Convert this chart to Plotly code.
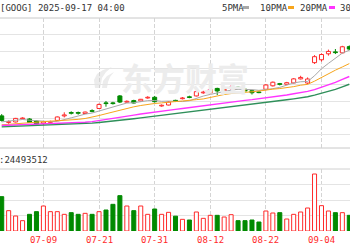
import plotly.graph_objects as go

# ---------------- data ----------------
dates = ["06-30", "07-01", "07-02", "07-03", "07-07", "07-08", "07-09", "07-10", "07-11",
         "07-14", "07-15", "07-16", "07-17", "07-18", "07-21", "07-22", "07-23", "07-24",
         "07-25", "07-28", "07-29", "07-30", "07-31", "08-01", "08-04", "08-05", "08-06",
         "08-07", "08-08", "08-11", "08-12", "08-13", "08-14", "08-15", "08-18", "08-19",
         "08-20", "08-21", "08-22", "08-25", "08-26", "08-27", "08-28", "08-29", "09-02",
         "09-03", "09-04", "09-05", "09-08", "09-09", "09-10"]

opens = [180.0, 174.5, 174.9, 177.6, 177.4, 175.7, 173.7, 174.6, 176.2, 180.0,
         182.8, 182.8, 182.0, 184.4, 186.2, 190.9, 190.9, 196.7, 191.5, 192.8,
         192.5, 195.0, 195.6, 188.3, 189.1, 193.0, 194.4, 196.0, 196.7, 199.3,
         199.4, 203.0, 200.9, 203.5, 204.0, 202.3, 201.1, 200.0, 202.3, 205.2,
         207.0, 206.5, 207.6, 211.0, 207.5, 224.6, 227.0, 232.0, 233.6, 232.8, 238.0]
highs = [181.5, 176.2, 178.3, 178.8, 178.0, 176.2, 175.3, 176.0, 179.5, 183.0,
         183.8, 183.6, 183.6, 185.5, 190.4, 192.5, 191.8, 197.5, 193.0, 193.5,
         194.2, 196.5, 196.7, 189.6, 192.2, 193.5, 195.8, 196.9, 201.0, 201.0,
         202.5, 203.6, 202.8, 205.9, 204.6, 202.6, 201.5, 200.5, 206.7, 208.8,
         207.6, 208.5, 211.7, 213.6, 212.2, 230.9, 232.4, 235.5, 236.0, 238.7, 239.0]
lows = [175.3, 173.3, 174.5, 177.2, 174.1, 172.8, 172.0, 174.1, 175.9, 178.7,
        181.2, 181.0, 181.6, 183.0, 185.8, 187.7, 189.5, 190.8, 190.8, 190.4,
        192.0, 194.4, 191.2, 187.7, 188.8, 191.6, 193.8, 194.8, 196.3, 198.5,
        199.0, 197.5, 200.5, 201.7, 202.8, 200.5, 197.9, 199.0, 201.5, 204.6,
        205.5, 206.0, 207.2, 210.5, 206.5, 223.5, 225.5, 230.5, 231.8, 232.4, 235.0]
closes = [176.2, 175.2, 177.9, 178.2, 174.5, 173.2, 174.9, 175.2, 179.1, 180.8,
          182.2, 182.2, 183.2, 183.8, 189.6, 190.3, 190.3, 191.6, 192.2, 190.8,
          193.9, 195.6, 191.9, 188.9, 191.6, 192.4, 195.0, 195.4, 200.3, 199.9,
          202.1, 200.9, 202.3, 204.0, 203.4, 200.9, 199.4, 199.5, 205.9, 208.2,
          206.4, 207.8, 211.0, 212.2, 210.9, 229.6, 231.4, 234.0, 233.0, 237.9, 236.0]
volumes = [41.2, 24.4, 18.0, 12.4, 20.0, 23.2, 30.0, 23.2, 23.2, 20.0,
           22.0, 20.0, 21.2, 20.0, 23.2, 25.2, 32.0, 42.4, 30.0, 24.4,
           30.0, 20.0, 26.4, 20.0, 22.4, 17.8, 14.0, 13.2, 22.8, 15.2,
           18.8, 18.8, 16.8, 19.6, 12.4, 12.4, 13.2, 10.8, 24.0, 21.6,
           22.0, 14.4, 20.0, 22.8, 27.6, 68.4, 30.4, 24.0, 22.0, 22.0, 18.8]

ma5 = [175.0, 175.5, 176.5, 177.0, 176.4, 175.8, 175.7, 175.2, 175.4, 176.6,
       178.4, 179.9, 181.5, 182.4, 184.2, 185.8, 187.4, 189.1, 190.8, 191.0,
       191.8, 192.8, 192.9, 192.2, 192.4, 192.1, 192.0, 192.7, 194.9, 196.6,
       198.0, 199.4, 200.8, 201.6, 202.3, 202.3, 202.0, 201.4, 201.8, 202.8,
       203.9, 205.6, 207.6, 208.6, 208.8, 213.6, 219.5, 224.0, 228.2, 232.6, 235.0]
ma10 = [172.5, 173.0, 173.6, 174.2, 174.6, 174.9, 175.4, 175.6, 175.9, 176.2,
        176.5, 177.1, 177.8, 178.9, 180.3, 181.8, 183.3, 184.9, 186.6, 187.6,
        188.7, 189.8, 190.4, 190.9, 191.7, 192.0, 192.5, 192.8, 193.6, 194.2,
        195.6, 196.9, 197.9, 198.7, 199.4, 199.8, 200.2, 200.8, 201.8, 202.4,
        202.9, 203.4, 204.5, 205.7, 206.4, 209.1, 212.3, 215.5, 218.3, 221.0, 223.8]
ma20 = [172.0, 172.2, 172.4, 172.6, 172.7, 172.8, 173.0, 173.2, 173.5, 173.8,
        174.1, 174.4, 174.7, 175.2, 176.0, 176.9, 177.8, 178.8, 179.7, 180.6,
        181.6, 182.5, 183.3, 184.0, 184.8, 185.5, 186.2, 187.0, 187.9, 188.7,
        189.5, 190.3, 191.1, 191.8, 192.4, 193.0, 193.6, 194.3, 195.2, 196.1,
        196.8, 197.5, 198.5, 199.4, 200.5, 202.0, 203.8, 205.8, 208.0, 210.5, 213.0]
ma30 = [170.8, 171.0, 171.3, 171.5, 171.7, 171.9, 172.1, 172.3, 172.5, 172.8,
        173.1, 173.3, 173.6, 173.9, 174.5, 175.0, 175.6, 176.3, 176.9, 177.6,
        178.3, 179.0, 179.6, 180.3, 181.0, 181.7, 182.4, 183.1, 183.9, 184.7,
        185.5, 186.3, 187.1, 187.9, 188.6, 189.3, 190.0, 190.7, 191.4, 192.1,
        192.8, 193.5, 194.3, 195.1, 196.0, 197.4, 198.9, 200.5, 202.2, 204.3, 206.5]

tick_labels = ["06-25", "07-09", "07-21", "07-31", "08-12", "08-22", "09-04"]
tick_index = [-2, 6, 14, 22, 30, 38, 46]
title_text = "[GOOG] 2025-09-17 04:00"
vol_text = ":24493512"
legend_names = ["5PMA", "10PMA", "20PMA", "30"]

# ---------------- styles ----------------
W, H = 350, 250
RED = "#ff2a2a"
GREEN = "#008a00"
MA_COLORS = ["#a8a8a8", "#f7a51c", "#ff33ff", "#2f8f5a"]
MA_WIDTHS = [1, 1, 1.4, 1.4]
FONT = "DejaVu Sans Mono"


def px_x(p):
    return p / W


def px_y(p):
    return 1 - p / H


idx = list(range(len(dates)))
up = [c >= o for o, c in zip(opens, closes)]

fig = go.Figure()

# candle bodies, wicks and volume bars
for is_up, fill, col in [(True, "white", RED), (False, GREEN, GREEN)]:
    xs = [i for i in idx if up[i] == is_up]
    base = [min(opens[i], closes[i]) for i in xs]
    hgt = [max(abs(closes[i] - opens[i]), 0.35) for i in xs]
    wx, wy = [], []
    for i in xs:
        top = max(opens[i], closes[i])
        bot = min(opens[i], closes[i])
        wx += [i, i, None, i, i, None]
        wy += [highs[i], top, None, bot, lows[i], None]
    fig.add_trace(go.Scatter(x=wx, y=wy, mode="lines", line=dict(color=col, width=1),
                             hoverinfo="skip", xaxis="x", yaxis="y"))
    fig.add_trace(go.Bar(x=xs, y=hgt, base=base, width=0.58,
                         marker=dict(color=fill, line=dict(color=col, width=1)),
                         xaxis="x", yaxis="y"))
    fig.add_trace(go.Bar(x=xs, y=[volumes[i] for i in xs], width=0.58,
                         marker=dict(color=fill, line=dict(color=col, width=1)),
                         xaxis="x2", yaxis="y2"))

# moving averages
for vals, col, lw in zip([ma5, ma10, ma20, ma30], MA_COLORS, MA_WIDTHS):
    fig.add_trace(go.Scatter(x=idx, y=vals, mode="lines", line=dict(color=col, width=lw),
                             hoverinfo="skip", xaxis="x", yaxis="y"))

grid_x = dict(showgrid=True, gridcolor="#d4d4d4", griddash="4px,2px", gridwidth=1,
              tickvals=tick_index, showticklabels=False, ticks="", zeroline=False,
              showline=False, range=[-0.245, 50.1])

fig.update_layout(
    width=W, height=H, margin=dict(l=0, r=0, t=0, b=0),
    paper_bgcolor="white", plot_bgcolor="white", showlegend=False, barmode="overlay",
    xaxis=dict(domain=[0, 1], anchor="y", **grid_x),
    xaxis2=dict(domain=[0, 1], anchor="y2", matches="x", **grid_x),
    yaxis=dict(domain=[px_y(148), px_y(18)], range=[153.1, 262], tick0=164, dtick=14,
               showgrid=True, gridcolor="#e4e4e4", showticklabels=False, ticks="",
               zeroline=False, showline=False),
    yaxis2=dict(domain=[px_y(231), px_y(169)], range=[0, 74.4], tick0=0, dtick=18.6,
                showgrid=True, gridcolor="#e4e4e4", showticklabels=False, ticks="",
                zeroline=False, showline=False),
)

shapes = []
for yy, col in [(18, "#c8c8c8"), (148, "#c8c8c8"), (169, "#d0d0d0")]:
    shapes.append(dict(type="line", xref="paper", yref="paper", x0=0, x1=1,
                       y0=px_y(yy), y1=px_y(yy), line=dict(color=col, width=1), layer="below"))


def pth(points):
    return "M " + " L ".join(f"{px_x(a):.4f},{px_y(b):.4f}" for a, b in points) + " Z"


# watermark logo (swoosh)
shapes.append(dict(type="path", xref="paper", yref="paper", layer="below",
                   path=pth([(95, 88), (94, 80), (97, 74), (103, 70), (112, 67), (106, 72),
                             (102, 78), (101, 84), (100, 88)]),
                   fillcolor="#ececec", line=dict(width=0)))
shapes.append(dict(type="path", xref="paper", yref="paper", layer="below",
                   path=pth([(102, 88), (103, 81), (107, 76), (114, 72), (110, 77),
                             (108, 82), (107, 88)]),
                   fillcolor="#ececec", line=dict(width=0)))

# legend colour dashes
for x0, col in [(243, MA_COLORS[0]), (288, MA_COLORS[1]), (329, MA_COLORS[2])]:
    shapes.append(dict(type="rect", xref="paper", yref="paper", x0=px_x(x0), x1=px_x(x0 + 6),
                       y0=px_y(9), y1=px_y(6), fillcolor=col, line=dict(width=0)))
fig.update_layout(shapes=shapes)

ann = []
ann.append(dict(text="东方财富", xref="paper", yref="paper", x=px_x(185), y=px_y(77),
                showarrow=False, font=dict(family="Noto Sans CJK SC", size=32, color="#ececec",
                                           weight="bold"), xanchor="center", yanchor="middle"))
ann.append(dict(text=title_text, xref="paper", yref="paper", x=px_x(-2.5), y=px_y(8),
                xanchor="left", yanchor="middle", showarrow=False,
                font=dict(family=FONT, size=9, color="#333333")))
for name, xl in zip(legend_names, [220, 258, 298, 338]):
    ann.append(dict(text=name, xref="paper", yref="paper", x=px_x(xl), y=px_y(8),
                    xanchor="left", yanchor="middle", showarrow=False,
                    font=dict(family=FONT, size=9, color="#333333")))
ann.append(dict(text=vol_text, xref="paper", yref="paper", x=px_x(-2.7), y=px_y(160),
                xanchor="left", yanchor="middle", showarrow=False,
                font=dict(family=FONT, size=9, color="#333333")))
for lab, ti in zip(tick_labels, tick_index):
    ann.append(dict(text=lab, xref="x2", yref="paper", x=ti, y=px_y(240),
                    xanchor="center", yanchor="middle", showarrow=False,
                    font=dict(family=FONT, size=9, color=RED)))
fig.update_layout(annotations=ann)

fig.write_html("out.html")
